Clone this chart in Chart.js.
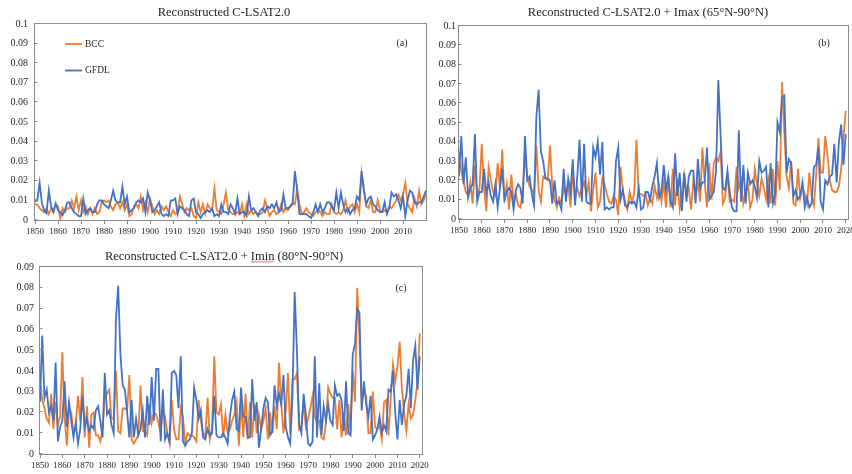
<!DOCTYPE html>
<html><head><meta charset="utf-8">
<script src="https://cdn.jsdelivr.net/npm/chart.js@4.4.1/dist/chart.umd.min.js"></script>
<style>
html,body{margin:0;padding:0;width:852px;height:474px;overflow:hidden;background:#fff;}
canvas{position:absolute;}
</style></head><body>
<canvas id="ca" width="430" height="240" style="left:0;top:0"></canvas>
<canvas id="cb" width="440" height="240" style="left:430px;top:0"></canvas>
<canvas id="cc" width="440" height="239" style="left:0;top:235px"></canvas>
<script>
// ---------- data ----------
const years = [];
for (let y = 1850; y <= 2020; y++) years.push(y);

const xTicksA = [1850,1860,1870,1880,1890,1900,1910,1920,1930,1940,1950,1960,1970,1980,1990,2000,2010];
const xTicksBC = [1850,1860,1870,1880,1890,1900,1910,1920,1930,1940,1950,1960,1970,1980,1990,2000,2010,2020];
const yTicksAB = [0,0.01,0.02,0.03,0.04,0.05,0.06,0.07,0.08,0.09,0.1];
const yLabelsAB = ['0','0.01','0.02','0.03','0.04','0.05','0.06','0.07','0.08','0.09','0.1'];
const yTicksC = [0,0.01,0.02,0.03,0.04,0.05,0.06,0.07,0.08,0.09];
const yLabelsC = ['0','0.01','0.02','0.03','0.04','0.05','0.06','0.07','0.08','0.09'];

const seriesNames = ['BCC','GFDL'];
const titles = ['Reconstructed C-LSAT2.0','Reconstructed C-LSAT2.0 + Imax (65°N-90°N)','Reconstructed C-LSAT2.0 + Imin (80°N-90°N)'];
const tags = ['(a)','(b)','(c)'];

// (a) Reconstructed C-LSAT2.0
const bccA = [
0.008,0.008,0.006,0.005,0.004,0.006,0.003,0.006,0.004,0.008,
0.007,0.0005,0.006,0.004,0.006,0.006,0.010,0.006,0.012,0.005,
0.010,0.004,0.007,0.003,0.006,0.003,0.006,0.003,0.004,0.009,
0.010,0.009,0.010,0.007,0.005,0.008,0.009,0.006,0.009,0.005,
0.008,0.002,0.003,0.007,0.008,0.006,0.012,0.005,0.009,0.004,
0.011,0.007,0.003,0.005,0.003,0.007,0.005,0.007,0.004,0.002,
0.005,0.003,0.004,0.012,0.008,0.004,0.006,0.005,0.006,0.002,
0.001,0.009,0.004,0.008,0.003,0.008,0.006,0.005,0.016,0.005,
0.004,0.003,0.008,0.014,0.005,0.004,0.003,0.003,0.004,0.003,
0.008,0.002,0.008,0.003,0.005,0.003,0.004,0.003,0.003,0.004,
0.010,0.006,0.002,0.004,0.005,0.003,0.004,0.008,0.004,0.006,
0.005,0.007,0.009,0.008,0.016,0.008,0.003,0.004,0.006,0.004,
0.003,0.002,0.004,0.005,0.004,0.002,0.004,0.003,0.003,0.008,
0.004,0.003,0.004,0.003,0.005,0.010,0.004,0.007,0.008,0.004,
0.008,0.004,0.024,0.016,0.007,0.006,0.010,0.004,0.004,0.010,
0.005,0.004,0.005,0.004,0.007,0.006,0.008,0.010,0.013,0.010,
0.013,0.019,0.008,0.006,0.004,0.011,0.007,0.015,0.008,0.010,
0.013];
const gfdlA = [
0.0095,0.010,0.019,0.0085,0.005,0.0035,0.015,0.007,0.004,0.0085,
0.005,0.004,0.0025,0.005,0.009,0.009,0.006,0.004,0.003,0.002,
0.002,0.011,0.003,0.005,0.006,0.004,0.004,0.008,0.010,0.010,
0.008,0.007,0.006,0.010,0.015,0.010,0.009,0.009,0.017,0.008,
0.012,0.004,0.005,0.006,0.009,0.010,0.009,0.011,0.004,0.014,
0.010,0.004,0.005,0.007,0.009,0.003,0.002,0.003,0.002,0.010,
0.010,0.011,0.003,0.007,0.006,0.005,0.003,0.002,0.010,0.011,
0.004,0.003,0.001,0.003,0.004,0.005,0.004,0.006,0.002,0.003,
0.002,0.008,0.004,0.004,0.003,0.008,0.006,0.003,0.011,0.003,
0.004,0.004,0.002,0.012,0.005,0.006,0.004,0.002,0.005,0.006,
0.004,0.007,0.006,0.008,0.006,0.009,0.004,0.005,0.013,0.006,
0.006,0.007,0.008,0.025,0.015,0.003,0.003,0.003,0.003,0.002,
0.001,0.004,0.008,0.004,0.008,0.004,0.006,0.009,0.009,0.007,
0.005,0.014,0.006,0.014,0.008,0.004,0.006,0.003,0.005,0.006,
0.012,0.010,0.025,0.015,0.008,0.011,0.012,0.008,0.007,0.005,
0.004,0.004,0.009,0.003,0.006,0.014,0.012,0.013,0.010,0.006,
0.012,0.002,0.010,0.015,0.014,0.009,0.008,0.009,0.009,0.012,
0.015];

// (b) + Imax (65°N-90°N)
const bccB = [
0.035,0.025,0.019,0.014,0.012,0.019,0.008,0.028,0.012,0.016,
0.039,0.016,0.004,0.027,0.020,0.014,0.012,0.029,0.016,0.036,
0.009,0.018,0.005,0.023,0.009,0.013,0.007,0.006,0.014,0.033,
0.022,0.017,0.015,0.013,0.038,0.015,0.009,0.022,0.021,0.020,
0.038,0.017,0.010,0.006,0.011,0.008,0.016,0.013,0.018,0.006,
0.025,0.011,0.016,0.012,0.016,0.019,0.012,0.019,0.004,0.015,
0.024,0.006,0.009,0.021,0.018,0.013,0.009,0.008,0.012,0.010,
0.002,0.027,0.015,0.009,0.005,0.014,0.009,0.013,0.041,0.013,
0.013,0.012,0.013,0.007,0.011,0.008,0.017,0.011,0.017,0.009,
0.019,0.006,0.022,0.006,0.026,0.007,0.021,0.005,0.012,0.023,
0.014,0.016,0.005,0.020,0.012,0.019,0.009,0.037,0.019,0.006,
0.029,0.010,0.029,0.032,0.030,0.035,0.008,0.011,0.024,0.009,
0.010,0.009,0.027,0.016,0.020,0.008,0.014,0.018,0.006,0.010,
0.026,0.018,0.012,0.021,0.016,0.010,0.020,0.008,0.026,0.007,
0.030,0.015,0.071,0.045,0.022,0.016,0.030,0.008,0.007,0.026,
0.011,0.017,0.013,0.008,0.024,0.012,0.007,0.023,0.042,0.024,
0.024,0.043,0.033,0.020,0.015,0.014,0.014,0.017,0.026,0.042,
0.056];
const gfdlB = [
0.022,0.043,0.018,0.032,0.011,0.016,0.018,0.044,0.009,0.014,
0.014,0.026,0.013,0.019,0.012,0.009,0.018,0.006,0.016,0.026,
0.010,0.014,0.016,0.014,0.005,0.015,0.018,0.016,0.008,0.043,
0.020,0.022,0.013,0.007,0.053,0.067,0.035,0.030,0.021,0.021,
0.020,0.008,0.020,0.008,0.009,0.005,0.026,0.009,0.021,0.014,
0.031,0.007,0.022,0.041,0.009,0.039,0.009,0.008,0.008,0.037,
0.032,0.040,0.023,0.040,0.005,0.006,0.005,0.006,0.006,0.030,
0.037,0.010,0.015,0.007,0.006,0.009,0.008,0.009,0.006,0.016,
0.005,0.006,0.014,0.014,0.010,0.017,0.022,0.029,0.011,0.014,
0.028,0.015,0.022,0.009,0.006,0.034,0.012,0.024,0.004,0.024,
0.009,0.022,0.025,0.025,0.008,0.031,0.016,0.019,0.019,0.037,
0.010,0.012,0.014,0.025,0.072,0.043,0.016,0.015,0.025,0.014,
0.006,0.004,0.004,0.046,0.009,0.028,0.008,0.024,0.018,0.020,
0.017,0.011,0.030,0.024,0.025,0.027,0.006,0.029,0.008,0.013,
0.050,0.045,0.063,0.064,0.024,0.031,0.029,0.012,0.015,0.010,
0.012,0.019,0.006,0.011,0.006,0.008,0.027,0.028,0.037,0.009,
0.005,0.020,0.018,0.022,0.023,0.039,0.019,0.040,0.049,0.028,
0.044];

// (c) + Imin (80°N-90°N)
const bccC = [
0.035,0.026,0.022,0.017,0.015,0.029,0.012,0.025,0.014,0.018,
0.049,0.018,0.004,0.022,0.020,0.010,0.014,0.028,0.016,0.037,
0.008,0.023,0.003,0.019,0.020,0.009,0.009,0.006,0.012,0.028,
0.029,0.031,0.017,0.017,0.040,0.011,0.010,0.022,0.022,0.021,
0.038,0.007,0.005,0.007,0.009,0.033,0.011,0.011,0.009,0.024,
0.015,0.020,0.019,0.015,0.010,0.022,0.018,0.010,0.005,0.026,
0.012,0.007,0.007,0.022,0.018,0.005,0.010,0.009,0.009,0.008,
0.006,0.026,0.016,0.010,0.008,0.027,0.007,0.012,0.047,0.020,
0.019,0.024,0.008,0.019,0.010,0.012,0.016,0.019,0.025,0.004,
0.025,0.008,0.029,0.007,0.025,0.008,0.024,0.010,0.019,0.012,
0.016,0.022,0.007,0.020,0.010,0.023,0.012,0.044,0.024,0.010,
0.021,0.039,0.010,0.036,0.036,0.039,0.012,0.014,0.024,0.013,
0.017,0.022,0.028,0.018,0.015,0.016,0.008,0.007,0.015,0.032,
0.029,0.027,0.027,0.012,0.026,0.008,0.020,0.009,0.024,0.010,
0.040,0.025,0.080,0.055,0.025,0.030,0.028,0.010,0.010,0.030,
0.013,0.012,0.014,0.007,0.025,0.026,0.009,0.027,0.043,0.035,
0.042,0.054,0.031,0.020,0.011,0.024,0.017,0.019,0.026,0.035,
0.058];
const gfdlC = [
0.025,0.057,0.027,0.031,0.020,0.023,0.016,0.044,0.006,0.013,
0.016,0.035,0.013,0.025,0.016,0.008,0.015,0.005,0.012,0.028,
0.013,0.017,0.011,0.014,0.012,0.021,0.023,0.016,0.008,0.039,
0.019,0.021,0.014,0.010,0.065,0.081,0.048,0.033,0.031,0.020,
0.008,0.026,0.008,0.017,0.009,0.012,0.021,0.008,0.028,0.014,
0.037,0.016,0.041,0.041,0.006,0.031,0.007,0.010,0.006,0.039,
0.040,0.038,0.022,0.047,0.006,0.004,0.006,0.007,0.010,0.032,
0.026,0.017,0.021,0.008,0.007,0.012,0.009,0.010,0.028,0.009,
0.008,0.008,0.010,0.008,0.005,0.018,0.026,0.030,0.012,0.011,
0.032,0.018,0.018,0.008,0.008,0.036,0.016,0.025,0.003,0.012,
0.022,0.027,0.025,0.009,0.011,0.033,0.023,0.029,0.024,0.038,
0.013,0.008,0.005,0.027,0.078,0.050,0.014,0.010,0.029,0.019,
0.005,0.004,0.006,0.047,0.008,0.034,0.009,0.023,0.016,0.024,
0.016,0.014,0.033,0.028,0.029,0.026,0.011,0.035,0.010,0.009,
0.048,0.053,0.070,0.068,0.021,0.035,0.024,0.018,0.028,0.007,
0.009,0.012,0.018,0.010,0.014,0.011,0.031,0.030,0.040,0.020,
0.007,0.026,0.014,0.024,0.028,0.041,0.022,0.045,0.052,0.031,
0.047];

// ---------- styling ----------
const ORANGE = '#ED7D31';
const BLUE = '#4472C4';
const SERIF = '"Liberation Serif", "Times New Roman", serif';
const TEXT = '#262626';
const FRAME = '#8c8c8c';

const deco = {
  id: 'deco',
  afterDraw(chart, args, o) {
    const ctx = chart.ctx, a = chart.chartArea;
    ctx.save();
    ctx.strokeStyle = FRAME; ctx.lineWidth = 1;
    const L = Math.round(a.left) - 0.5;
    ctx.strokeRect(L, Math.round(a.top) - 0.5,
                   Math.round(a.right - a.left) + 1, Math.round(a.bottom - a.top) + 1);
    // inward y tick marks
    const ys = chart.scales.y;
    ctx.beginPath();
    ys.ticks.forEach(t => {
      const py = Math.round(ys.getPixelForValue(t.value)) - 0.5;
      ctx.moveTo(L, py); ctx.lineTo(L + 3, py);
    });
    ctx.stroke();
    // title
    ctx.fillStyle = TEXT;
    ctx.font = '12.5px ' + SERIF;
    ctx.textBaseline = 'middle'; ctx.textAlign = 'left';
    const w = ctx.measureText(o.title).width;
    const x0 = o.titleX - w / 2;
    ctx.fillText(o.title, x0, o.titleY);
    if (o.underline) {
      const i = o.title.indexOf(o.underline);
      const px = x0 + ctx.measureText(o.title.slice(0, i)).width;
      const uw = ctx.measureText(o.underline).width;
      const uy = o.titleY + 5;
      ctx.strokeStyle = '#e03030'; ctx.lineWidth = 0.8;
      ctx.beginPath();
      let up = true;
      ctx.moveTo(px, uy);
      for (let x = px + 1.5; x <= px + uw; x += 1.5) { ctx.lineTo(x, up ? uy - 0.8 : uy + 0.4); up = !up; }
      ctx.stroke();
    }
    // panel tag
    ctx.fillStyle = TEXT;
    ctx.font = '10px ' + SERIF; ctx.textAlign = 'center';
    ctx.fillText(o.tag, o.tagX, o.tagY);
    // legend
    if (o.legend) {
      chart.data.datasets.forEach((ds, k) => {
        const y = o.legend.y[k];
        ctx.strokeStyle = ds.borderColor; ctx.lineWidth = 1.8;
        ctx.beginPath(); ctx.moveTo(o.legend.x0, y); ctx.lineTo(o.legend.x1, y); ctx.stroke();
        ctx.fillStyle = TEXT; ctx.font = '9.5px ' + SERIF; ctx.textAlign = 'left';
        ctx.fillText(ds.label, o.legend.tx, y);
      });
    }
    ctx.restore();
  }
};

function xy(vals) { return vals.map((v, i) => ({ x: years[i], y: v })); }

function makeChart(id, c) {
  return new Chart(document.getElementById(id), {
    type: 'line',
    data: {
      datasets: [
        { label: seriesNames[0], data: xy(c.bcc), borderColor: ORANGE, backgroundColor: ORANGE,
          borderWidth: 1.8, pointRadius: 0, tension: 0, order: 2 },
        { label: seriesNames[1], data: xy(c.gfdl), borderColor: BLUE, backgroundColor: BLUE,
          borderWidth: 1.8, pointRadius: 0, tension: 0, order: 1 }
      ]
    },
    options: {
      responsive: false, animation: false, devicePixelRatio: 1,
      layout: { padding: { left: 0, right: c.padR, top: c.padT, bottom: 0 } },
      plugins: { legend: { display: false }, tooltip: { enabled: false }, title: { display: false }, deco: c.deco },
      scales: {
        x: {
          type: 'linear', min: c.xmin, max: c.xmax,
          afterBuildTicks: s => { s.ticks = c.xTicks.map(v => ({ value: v })); },
          afterFit: s => { s.height = c.xH; },
          ticks: { autoSkip: false, maxRotation: 0, padding: 2, color: TEXT,
                   font: { family: SERIF, size: 9 }, callback: v => String(v) },
          grid: { display: true, drawOnChartArea: false, drawTicks: true, tickLength: 4, color: FRAME },
          border: { display: false }
        },
        y: {
          min: 0, max: c.ymax,
          afterBuildTicks: s => { s.ticks = c.yTicks.map(v => ({ value: v })); },
          afterFit: s => { s.width = c.yW; },
          ticks: { autoSkip: false, padding: c.yPad, color: TEXT,
                   font: { family: SERIF, size: 10 }, callback: (v, i) => c.yLabels[i] },
          grid: { display: false, drawTicks: false, tickLength: 0 },
          border: { display: false }
        }
      }
    },
    plugins: [deco]
  });
}

makeChart('ca', {
  bcc: bccA, gfdl: gfdlA, xmin: 1850, xmax: 2020, ymax: 0.1,
  xTicks: xTicksA, yTicks: yTicksAB, yLabels: yLabelsAB,
  padR: 4, padT: 24, xH: 20, yW: 35, yPad: 7,
  deco: { title: titles[0], titleX: 224, titleY: 13, tag: tags[0], tagX: 402, tagY: 43,
          legend: { x0: 65, x1: 82, tx: 85, y: [44, 70.5] } }
});
makeChart('cb', {
  bcc: bccB, gfdl: gfdlB, xmin: 1850, xmax: 2021, ymax: 0.1,
  xTicks: xTicksBC, yTicks: yTicksAB, yLabels: yLabelsAB,
  padR: 22, padT: 26, xH: 21, yW: 29, yPad: 3,
  deco: { title: titles[1], titleX: 218, titleY: 13, tag: tags[1], tagX: 394, tagY: 43 }
});
makeChart('cc', {
  bcc: bccC, gfdl: gfdlC, xmin: 1850, xmax: 2021, ymax: 0.09,
  xTicks: xTicksBC, yTicks: yTicksC, yLabels: yLabelsC,
  padR: 18, padT: 32, xH: 20, yW: 40, yPad: 6,
  deco: { title: titles[2], titleX: 224, titleY: 22, tag: tags[2], tagX: 401, tagY: 53, underline: 'Imin' }
});
</script>
</body></html>
